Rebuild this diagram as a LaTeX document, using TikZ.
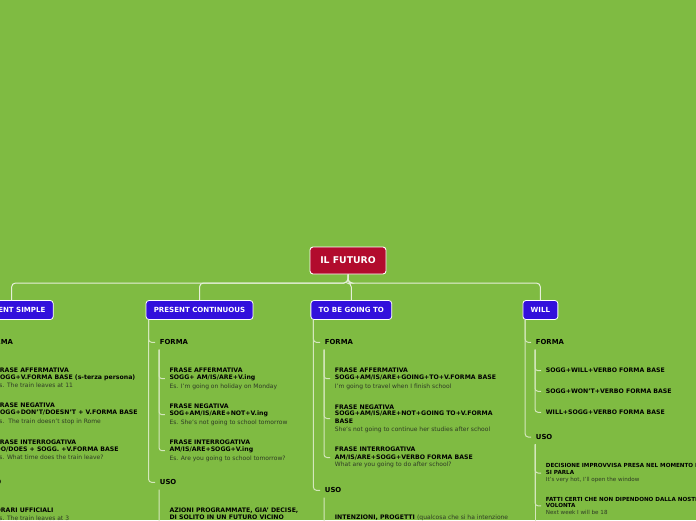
\documentclass[tikz,border=0pt]{standalone}
\usepackage{fontspec}
\setmainfont{DejaVu Sans}
\definecolor{bg}{HTML}{7FBB42}
\definecolor{rootred}{HTML}{B20B2D}
\definecolor{boxblue}{HTML}{3210DC}
\definecolor{busc}{HTML}{E6EFDA}
\definecolor{linec}{HTML}{D4E7BC}
\definecolor{exgray}{HTML}{2E3A25}
\newcommand{\ex}[1]{{\mdseries\fontsize{6}{6.7}\selectfont\color{exgray}#1}}
\newcommand{\exs}[1]{{\mdseries\fontsize{5.6}{6.3}\selectfont\color{exgray}#1}}
\tikzset{
  rootbox/.style={draw=white, line width=0.9pt, fill=rootred, rounded corners=3pt, text=white,
    font=\bfseries\fontsize{9.3}{10}\selectfont, minimum height=27pt, minimum width=76pt, inner sep=0pt},
  topicbox/.style={draw=white, line width=0.8pt, fill=boxblue, rounded corners=3pt, text=white,
    font=\bfseries\fontsize{7.05}{8}\selectfont, minimum height=19pt, inner xsep=7.8pt, inner ysep=0pt},
  section/.style={anchor=west, font=\bfseries\fontsize{6.9}{8}\selectfont, inner xsep=4.5pt, inner ysep=0pt},
  item/.style={anchor=west, align=left, font=\bfseries\fontsize{6.2}{6.7}\selectfont, inner xsep=4.5pt, inner ysep=0pt},
  smallitem/.style={item, font=\bfseries\fontsize{5.6}{6.3}\selectfont},
  bus/.style={draw=busc, line width=1pt, rounded corners=4pt},
  conn/.style={draw=linec, line width=1pt, rounded corners=3pt},
}
\begin{document}
\begin{tikzpicture}[x=1pt,y=-1pt]
\useasboundingbox (0,0) rectangle (696,520);
\fill[bg] (0,0) rectangle (696,520);
\clip (0,0) rectangle (696,520);

% root and topics
\node[rootbox] (root) at (348,260.5) {IL FUTURO};
\node[topicbox] (ps) at (11.6,310) {PRESENT SIMPLE};
\node[topicbox] (pc) at (199.5,310) {PRESENT CONTINUOUS};
\node[topicbox] (tb) at (351.3,310) {TO BE GOING TO};
\node[topicbox] (will) at (540.4,310) {WILL};

\coordinate (busy) at (0,283);
\draw[bus] (root.south) -- (root.south |- busy) -| (ps.north);
\draw[bus] (root.south) -- (root.south |- busy) -| (pc.north);
\draw[bus] (root.south) -- (root.south |- busy) -| (tb.north);
\draw[bus] (root.south) -- (root.south |- busy) -| (will.north);

% ---------- PRESENT SIMPLE ----------
\node[section] (psforma) at (-19.8,342.3) {FORMA};
\node[section] (psuso) at (-19.8,482.3) {USO};
\node[item] (psi1) at (-9,378) {FRASE AFFERMATIVA\\SOGG+V.FORMA BASE (s-terza persona)\\[2pt]\ex{Es. The train leaves at 11}};
\node[item] (psi2) at (-9,414) {FRASE NEGATIVA\\SOGG+DON'T/DOESN'T + V.FORMA BASE\\[2pt]\ex{Es.\ \ The train doesn't stop in Rome}};
\node[item] (psi3) at (-9,450) {FRASE INTERROGATIVA\\DO/DOES + SOGG. +V.FORMA BASE\\[2pt]\ex{Es. What time does the train leave?}};
\node[item] (psu1) at (-9,514.5) {ORARI UFFICIALI\\[0.9pt]\ex{Es. The train leaves at 3}};
\draw[conn] ([xshift=3pt]ps.south west) |- (psforma.west);
\draw[conn] ([xshift=3pt]ps.south west) |- (psuso.west);
\draw[conn] ([xshift=3.8pt,yshift=-4.5pt]psforma.south west) |- (psi1.west);
\draw[conn] ([xshift=3.8pt,yshift=-4.5pt]psforma.south west) |- (psi2.west);
\draw[conn] ([xshift=3.8pt,yshift=-4.5pt]psforma.south west) |- (psi3.west);
\draw[conn] ([xshift=3.8pt,yshift=-4.5pt]psuso.south west) |- (psu1.west);

% ---------- PRESENT CONTINUOUS ----------
\node[section] (pcforma) at (155.2,342.3) {FORMA};
\node[section] (pcuso) at (155.2,482.3) {USO};
\node[item] (pci1) at (164.8,378.7) {FRASE AFFERMATIVA\\SOGG+ AM/IS/ARE+V.ing\\[2pt]\ex{Es. I'm going on holiday on Monday}};
\node[item] (pci2) at (164.8,414.7) {FRASE NEGATIVA\\SOG+AM/IS/ARE+NOT+V.ing\\[2pt]\ex{Es. She's not going to school tomorrow}};
\node[item] (pci3) at (164.8,450.7) {FRASE INTERROGATIVA\\AM/IS/ARE+SOGG+V.ing\\[2pt]\ex{Es. Are you going to school tomorrow?}};
\node[item] (pcu1) at (164.8,514) {AZIONI PROGRAMMATE, GIA' DECISE,\\DI SOLITO IN UN FUTURO VICINO};
\draw[conn] ([xshift=3pt]pc.south west) |- (pcforma.west);
\draw[conn] ([xshift=3pt]pc.south west) |- (pcuso.west);
\draw[conn] ([xshift=3.8pt,yshift=-4.5pt]pcforma.south west) |- (pci1.west);
\draw[conn] ([xshift=3.8pt,yshift=-4.5pt]pcforma.south west) |- (pci2.west);
\draw[conn] ([xshift=3.8pt,yshift=-4.5pt]pcforma.south west) |- (pci3.west);
\draw[conn] ([xshift=3.8pt,yshift=-4.5pt]pcuso.south west) |- ([yshift=-10pt]pcu1.west);

% ---------- TO BE GOING TO ----------
\node[section] (tbforma) at (320.2,342.3) {FORMA};
\node[section] (tbuso) at (320.2,490.3) {USO};
\node[item] (tbi1) at (330.2,378.7) {FRASE AFFERMATIVA\\SOGG+AM/IS/ARE+GOING+TO+V.FORMA BASE\\[2pt]\ex{I'm going to travel when I finish school}};
\node[item] (tbi2) at (330.2,418.5) {FRASE NEGATIVA\\SOGG+AM/IS/ARE+NOT+GOING TO+V.FORMA\\[1pt]BASE\\[1pt]\ex{She's not going to continue her studies after school}};
\node[item] (tbi3) at (330.2,457.5) {FRASE INTERROGATIVA\\[1.2pt]AM/IS/ARE+SOGG+VERBO FORMA BASE\\[0.8pt]\ex{What are you going to do after school?}};
\node[item] (tbu1) at (330.2,518) {INTENZIONI, PROGETTI \ex{(qualcosa che si ha intenzione}};
\draw[conn] ([xshift=3pt]tb.south west) |- (tbforma.west);
\draw[conn] ([xshift=3pt]tb.south west) |- (tbuso.west);
\draw[conn] ([xshift=3.8pt,yshift=-4.5pt]tbforma.south west) |- (tbi1.west);
\draw[conn] ([xshift=3.8pt,yshift=-4.5pt]tbforma.south west) |- (tbi2.west);
\draw[conn] ([xshift=3.8pt,yshift=-4.5pt]tbforma.south west) |- (tbi3.west);
\draw[conn] ([xshift=3.8pt,yshift=-4.5pt]tbuso.south west) |- ([yshift=-10pt]tbu1.west);

% ---------- WILL ----------
\node[section] (wforma) at (531.2,342.3) {FORMA};
\node[section] (wuso) at (531.2,437) {USO};
\node[item] (wi1) at (541.2,370.7) {SOGG+WILL+VERBO FORMA BASE};
\node[item] (wi2) at (541.2,391.3) {SOGG+WON'T+VERBO FORMA BASE};
\node[item] (wi3) at (541.2,412.3) {WILL+SOGG+VERBO FORMA BASE};
\node[smallitem] (wu1) at (541.2,473) {DECISIONE IMPROVVISA PRESA NEL MOMENTO IN CUI\\SI PARLA\\[0.7pt]\exs{It's very hot, I'll open the window}};
\node[smallitem] (wu2) at (541.2,505.8) {FATTI CERTI CHE NON DIPENDONO DALLA NOSTRA\\VOLONTA\\[0.7pt]\exs{Next week I will be 18}};
\coordinate (wmore) at ([xshift=3.8pt,yshift=-100pt]wuso.south west);
\draw[conn] ([xshift=2.7pt]will.south west) |- (wforma.west);
\draw[conn] ([xshift=2.7pt]will.south west) |- (wuso.west);
\draw[conn] ([xshift=3.8pt,yshift=-4.5pt]wforma.south west) |- (wi1.west);
\draw[conn] ([xshift=3.8pt,yshift=-4.5pt]wforma.south west) |- (wi2.west);
\draw[conn] ([xshift=3.8pt,yshift=-4.5pt]wforma.south west) |- (wi3.west);
\draw[conn] ([xshift=3.8pt,yshift=-4.5pt]wuso.south west) |- (wu1.west);
\draw[conn] ([xshift=3.8pt,yshift=-4.5pt]wuso.south west) |- (wu2.west);
\draw[conn] ([xshift=3.8pt,yshift=-4.5pt]wuso.south west) -- (wmore);
\end{tikzpicture}
\end{document}
